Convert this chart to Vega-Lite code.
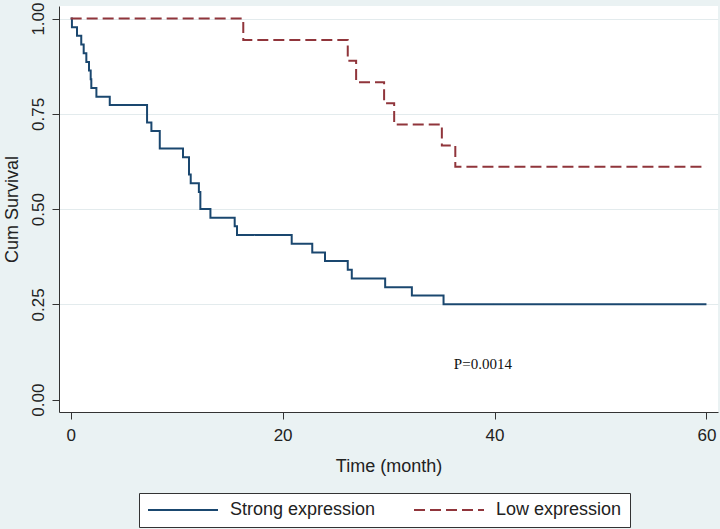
{
  "$schema": "https://vega.github.io/schema/vega-lite/v6.json",
  "width": 659,
  "height": 406,
  "autosize": {"type": "none"},
  "padding": {"left": 59, "top": 6, "right": 2, "bottom": 117},
  "background": "#eaf2f3",
  "config": {
    "view": {"fill": "white", "stroke": null},
    "font": "Liberation Sans",
    "axis": {
      "domainColor": "#333333",
      "domainWidth": 1,
      "tickColor": "#333333",
      "tickSize": 7,
      "labelColor": "#222222",
      "titleColor": "#222222",
      "labelFont": "Liberation Sans",
      "titleFont": "Liberation Sans",
      "labelFontSize": 17,
      "titleFontSize": 18,
      "titleFontWeight": "normal"
    },
    "legend": {
      "title": null,
      "orient": "none",
      "legendX": 80,
      "legendY": 487,
      "direction": "horizontal",
      "symbolType": "M-5,0H5",
      "symbolSize": 196,
      "symbolOffset": 27,
      "symbolStrokeWidth": 2,
      "labelFontSize": 18,
      "labelColor": "#222222",
      "labelLimit": 400,
      "labelOffset": 38,
      "columnPadding": 34,
      "padding": 8,
      "fillColor": "white",
      "strokeColor": "#333333"
    }
  },
  "datasets": {
    "km": [
      {"group": "Strong expression", "t": 0, "s": 1.0},
      {"group": "Strong expression", "t": 0.12, "s": 0.977},
      {"group": "Strong expression", "t": 0.6, "s": 0.955},
      {"group": "Strong expression", "t": 1.0, "s": 0.932},
      {"group": "Strong expression", "t": 1.23, "s": 0.909},
      {"group": "Strong expression", "t": 1.48, "s": 0.886},
      {"group": "Strong expression", "t": 1.73, "s": 0.864},
      {"group": "Strong expression", "t": 1.89, "s": 0.841},
      {"group": "Strong expression", "t": 1.95, "s": 0.818},
      {"group": "Strong expression", "t": 2.43, "s": 0.795},
      {"group": "Strong expression", "t": 3.69, "s": 0.773},
      {"group": "Strong expression", "t": 7.21, "s": 0.727},
      {"group": "Strong expression", "t": 7.62, "s": 0.705},
      {"group": "Strong expression", "t": 8.41, "s": 0.659},
      {"group": "Strong expression", "t": 10.6, "s": 0.636},
      {"group": "Strong expression", "t": 11.17, "s": 0.591},
      {"group": "Strong expression", "t": 11.33, "s": 0.568},
      {"group": "Strong expression", "t": 12.1, "s": 0.545},
      {"group": "Strong expression", "t": 12.24, "s": 0.5},
      {"group": "Strong expression", "t": 13.19, "s": 0.477},
      {"group": "Strong expression", "t": 15.48, "s": 0.455},
      {"group": "Strong expression", "t": 15.7, "s": 0.432},
      {"group": "Strong expression", "t": 20.86, "s": 0.409},
      {"group": "Strong expression", "t": 22.8, "s": 0.386},
      {"group": "Strong expression", "t": 24.0, "s": 0.364},
      {"group": "Strong expression", "t": 26.15, "s": 0.341},
      {"group": "Strong expression", "t": 26.53, "s": 0.318},
      {"group": "Strong expression", "t": 29.68, "s": 0.295},
      {"group": "Strong expression", "t": 32.2, "s": 0.273},
      {"group": "Strong expression", "t": 35.19, "s": 0.25},
      {"group": "Strong expression", "t": 60, "s": 0.25},
      {"group": "Low expression", "t": 0, "s": 1.0},
      {"group": "Low expression", "t": 16.29, "s": 0.944},
      {"group": "Low expression", "t": 26.15, "s": 0.889},
      {"group": "Low expression", "t": 26.94, "s": 0.833},
      {"group": "Low expression", "t": 29.58, "s": 0.778},
      {"group": "Low expression", "t": 30.53, "s": 0.722},
      {"group": "Low expression", "t": 35.03, "s": 0.667},
      {"group": "Low expression", "t": 36.3, "s": 0.611},
      {"group": "Low expression", "t": 60, "s": 0.611}
    ],
    "note": [
      {"t": 38.9, "s": 0.093, "label": "P=0.0014"}
    ]
  },
  "layer": [
    {
      "data": {"name": "km"},
      "mark": {"type": "line", "interpolate": "step-after", "strokeWidth": 2},
      "encoding": {
        "x": {
          "field": "t",
          "type": "quantitative",
          "scale": {"domain": [-1.1, 61.09], "nice": false, "zero": false},
          "axis": {
            "values": [0, 20, 40, 60],
            "title": "Time (month)",
            "grid": false,
            "labelPadding": 8,
            "titlePadding": 14
          }
        },
        "y": {
          "field": "s",
          "type": "quantitative",
          "scale": {"domain": [-0.0325, 1.033], "nice": false, "zero": false},
          "axis": {
            "values": [0, 0.25, 0.5, 0.75, 1],
            "format": ".2f",
            "title": "Cum Survival",
            "labelAngle": 270,
            "labelAlign": "center",
            "labelBaseline": "bottom",
            "labelPadding": 5,
            "titlePadding": 8,
            "grid": true,
            "gridColor": "#e3ebed",
            "gridWidth": 1.2,
            "gridOpacity": {"condition": {"test": "datum.value == 0", "value": 0}, "value": 1}
          }
        },
        "color": {
          "field": "group",
          "type": "nominal",
          "scale": {"domain": ["Strong expression", "Low expression"], "range": ["#1a476f", "#90353b"]},
          "legend": {}
        },
        "strokeDash": {
          "field": "group",
          "type": "nominal",
          "scale": {"domain": ["Strong expression", "Low expression"], "range": [[1, 0], [11, 5]]},
          "legend": {}
        }
      }
    },
    {
      "data": {"name": "note"},
      "mark": {"type": "text", "font": "Liberation Serif", "fontSize": 15, "color": "#111111"},
      "encoding": {
        "x": {"field": "t", "type": "quantitative"},
        "y": {"field": "s", "type": "quantitative"},
        "text": {"field": "label"}
      }
    }
  ]
}
